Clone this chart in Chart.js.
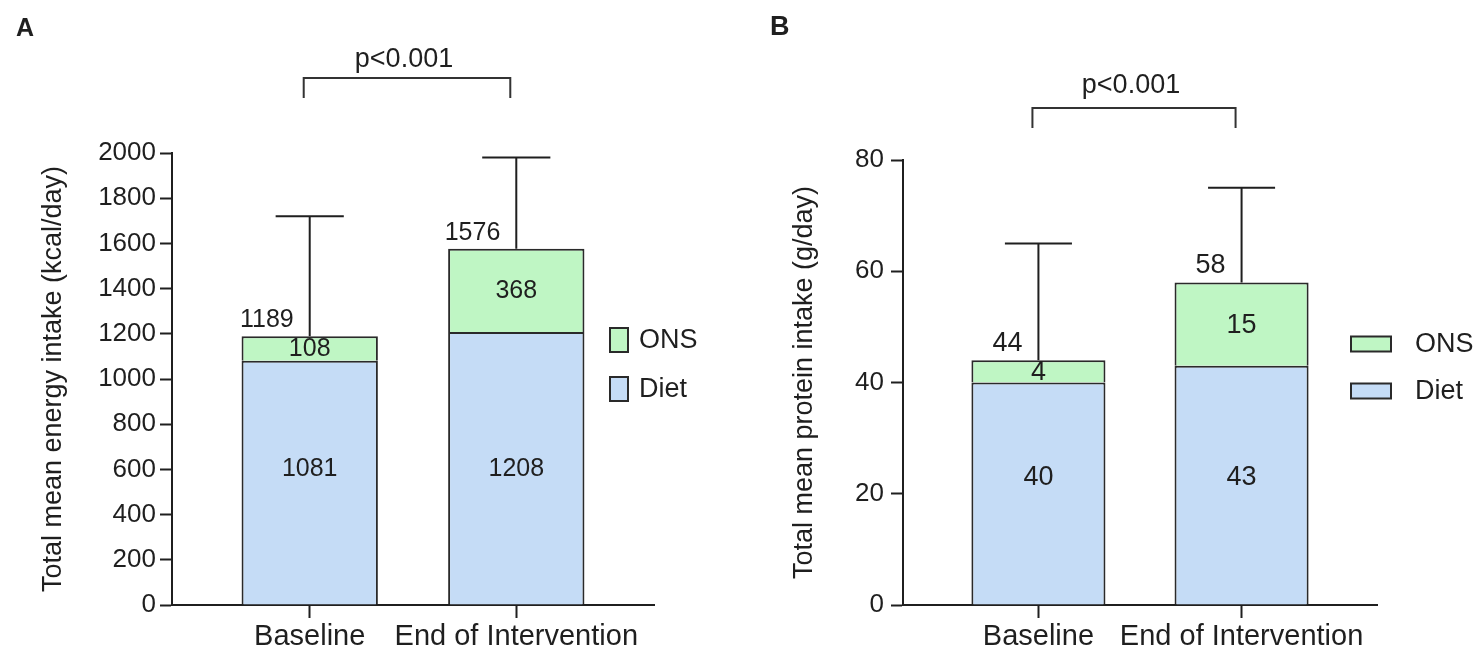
<!DOCTYPE html>
<html>
<head>
<meta charset="utf-8">
<title>Energy and protein intake</title>
<script src="https://cdn.jsdelivr.net/npm/chart.js@4.4.1/dist/chart.umd.min.js"></script>
<style>
  html, body { margin: 0; padding: 0; background: #ffffff; }
  #wrap { position: relative; width: 1478px; height: 653px; overflow: hidden; background: #ffffff; }
  canvas { position: absolute; top: 0; }
  #panelA { left: 0; }
  #panelB { left: 740px; }
</style>
</head>
<body>
<div id="wrap">
  <canvas id="panelA" width="740" height="653"></canvas>
  <canvas id="panelB" width="738" height="653"></canvas>
</div>
<script>
// ---- data ----
const categories = ['Baseline', 'End of Intervention'];
const seriesNames = ['Diet', 'ONS'];

// A: energy intake, kcal/day
const energyDiet  = [1081, 1208];
const energyONS   = [108, 368];
const energyTotal = [1189, 1576];
const energySDTop = [1720, 1980];
const energyTicks = [0, 200, 400, 600, 800, 1000, 1200, 1400, 1600, 1800, 2000];

// B: protein intake, g/day
const proteinDiet  = [40, 43];
const proteinONS   = [4, 15];
const proteinTotal = [44, 58];
const proteinSDTop = [65, 75];
const proteinTicks = [0, 20, 40, 60, 80];

const pValueText = 'p<0.001';

// ---- styling ----
const FONT = '"Liberation Sans", Arial, Helvetica, sans-serif';
const INK = '#1f1f1f';
const EDGE = '#2a2a2a';
const DIET_FILL = '#c5dcf6';
const ONS_FILL = '#bff6c4';

function buildPanel(canvasId, p) {
  const annotations = {
    id: 'annotations',
    afterDatasetsDraw(chart) {
      const { ctx, scales: { x, y } } = chart;
      const barMeta = chart.getDatasetMeta(0);
      ctx.save();

      // error bars (upper SD)
      ctx.strokeStyle = INK;
      ctx.lineWidth = 2;
      p.total.forEach((t, i) => {
        const cx = x.getPixelForValue(i + 1);
        const capHalf = barMeta.data[i].width / 4;
        const y0 = y.getPixelForValue(t);
        const y1 = y.getPixelForValue(p.sdTop[i]);
        ctx.beginPath();
        ctx.moveTo(cx, y0); ctx.lineTo(cx, y1);
        ctx.moveTo(cx - capHalf, y1); ctx.lineTo(cx + capHalf, y1);
        ctx.stroke();
      });

      // value labels
      ctx.fillStyle = INK;
      ctx.font = p.valueFont + 'px ' + FONT;
      p.total.forEach((t, i) => {
        const cx = x.getPixelForValue(i + 1);
        // diet segment
        ctx.textAlign = 'center';
        ctx.textBaseline = 'middle';
        ctx.fillText(String(p.diet[i]), cx, y.getPixelForValue(p.dietLabelLevel));
        // ONS segment
        const segMid = (y.getPixelForValue(p.diet[i]) + y.getPixelForValue(t)) / 2;
        ctx.fillText(String(p.ons[i]), cx, segMid + 1);
        // total above the bar
        ctx.textAlign = 'right';
        ctx.textBaseline = 'alphabetic';
        ctx.fillText(String(t), cx - 16, y.getPixelForValue(t) - 9);
      });

      // significance bracket
      const bx0 = x.getPixelForValue(1) - 6;
      const bx1 = x.getPixelForValue(2) - 6;
      ctx.strokeStyle = '#333333';
      ctx.lineWidth = 2;
      ctx.beginPath();
      ctx.moveTo(bx0, p.bracketY + 20);
      ctx.lineTo(bx0, p.bracketY);
      ctx.lineTo(bx1, p.bracketY);
      ctx.lineTo(bx1, p.bracketY + 20);
      ctx.stroke();
      ctx.fillStyle = INK;
      ctx.font = '27px ' + FONT;
      ctx.textAlign = 'center';
      ctx.textBaseline = 'alphabetic';
      ctx.fillText(pValueText, (bx0 + bx1) / 2 - 3, p.pBaseline);

      // panel letter
      ctx.font = 'bold ' + p.letterSize + 'px ' + FONT;
      ctx.textAlign = 'left';
      ctx.fillText(p.letter, p.letterX, p.letterBaseline);

      // legend (ONS above Diet)
      const entries = [
        { name: seriesNames[1], fill: ONS_FILL, cy: p.legend.cy[0] },
        { name: seriesNames[0], fill: DIET_FILL, cy: p.legend.cy[1] }
      ];
      ctx.font = '27px ' + FONT;
      ctx.textBaseline = 'middle';
      entries.forEach(e => {
        ctx.fillStyle = e.fill;
        ctx.strokeStyle = EDGE;
        ctx.lineWidth = 2;
        ctx.fillRect(p.legend.x, e.cy - p.legend.h / 2, p.legend.w, p.legend.h);
        ctx.strokeRect(p.legend.x, e.cy - p.legend.h / 2, p.legend.w, p.legend.h);
        ctx.fillStyle = INK;
        ctx.fillText(e.name, p.legend.textX, e.cy + 1);
      });
      ctx.restore();
    }
  };

  const pts = arr => arr.map((v, i) => ({ x: i + 1, y: v }));

  return new Chart(document.getElementById(canvasId), {
    type: 'bar',
    data: {
      datasets: [
        { label: seriesNames[0], data: pts(p.diet), backgroundColor: DIET_FILL,
          borderColor: EDGE, borderWidth: 2, categoryPercentage: 1, barPercentage: 0.66 },
        { label: seriesNames[1], data: pts(p.ons), backgroundColor: ONS_FILL,
          borderColor: EDGE, borderWidth: 2, categoryPercentage: 1, barPercentage: 0.66 }
      ]
    },
    options: {
      responsive: false,
      animation: false,
      devicePixelRatio: 1,
      layout: { padding: { left: 0, right: p.padRight, top: p.padTop, bottom: 0 } },
      plugins: { legend: { display: false }, tooltip: { enabled: false } },
      scales: {
        x: {
          type: 'linear',
          stacked: true,
          offset: false,
          min: 1 / 3,
          max: 8 / 3,
          afterBuildTicks: s => { s.ticks = categories.map((c, i) => ({ value: i + 1 })); },
          afterFit: s => { s.height = 48; },
          ticks: {
            callback: v => categories[Math.round(v) - 1],
            font: { family: FONT, size: 29 },
            color: INK,
            padding: 2,
            maxRotation: 0,
            autoSkip: false
          },
          grid: { display: true, offset: false, drawOnChartArea: false, drawTicks: true,
                  tickLength: 13, tickWidth: 2, tickColor: INK },
          border: { display: true, color: INK, width: 2 }
        },
        y: {
          stacked: true,
          min: 0,
          max: p.yMax,
          afterBuildTicks: s => { s.ticks = p.ticks.map(v => ({ value: v })); },
          afterFit: s => { s.width = p.axisLeft; },
          ticks: {
            callback: v => String(v),
            font: { family: FONT, size: 26 },
            color: INK,
            padding: p.tickPad
          },
          grid: { display: true, drawOnChartArea: false, drawTicks: true, tickLength: 12,
                  tickWidth: 2, tickColor: INK },
          border: { display: true, color: INK, width: 2 },
          title: {
            display: true,
            text: p.yTitle,
            font: { family: FONT, size: 27 },
            color: INK,
            padding: { top: p.titlePad, bottom: 0 }
          }
        }
      }
    },
    plugins: [annotations]
  });
}

buildPanel('panelA', {
  diet: energyDiet, ons: energyONS, total: energyTotal, sdTop: energySDTop,
  ticks: energyTicks, yMax: 2000, yTitle: 'Total mean energy intake (kcal/day)',
  axisLeft: 172, padRight: 86, padTop: 153, tickPad: 4, titlePad: 37,
  valueFont: 25, dietLabelLevel: 600,
  bracketY: 78, pBaseline: 67,
  letter: 'A', letterX: 16, letterBaseline: 36, letterSize: 25,
  legend: { x: 610, w: 18, h: 24, textX: 639, cy: [340, 389] }
});

buildPanel('panelB', {
  diet: proteinDiet, ons: proteinONS, total: proteinTotal, sdTop: proteinSDTop,
  ticks: proteinTicks, yMax: 80, yTitle: 'Total mean protein intake (g/day)',
  axisLeft: 163, padRight: 101, padTop: 160, tickPad: 7, titlePad: 48,
  valueFont: 27, dietLabelLevel: 23,
  bracketY: 108, pBaseline: 93,
  letter: 'B', letterX: 30, letterBaseline: 35, letterSize: 27,
  legend: { x: 611, w: 40, h: 15, textX: 675, cy: [344, 391] }
});
</script>
</body>
</html>
